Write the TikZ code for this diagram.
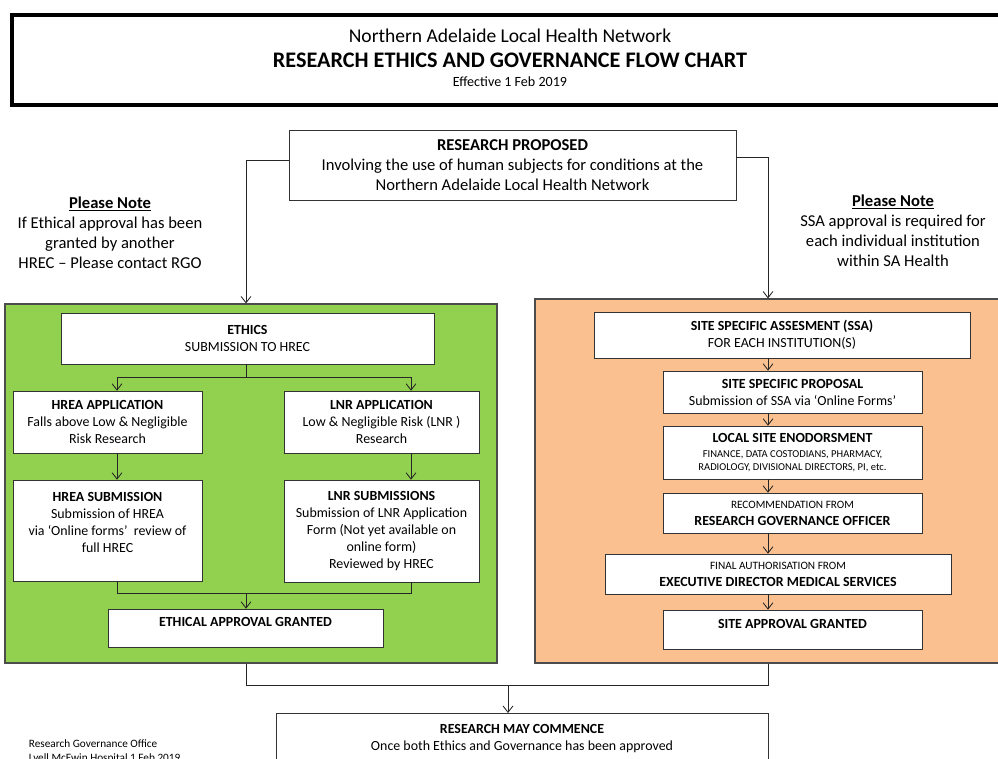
\documentclass[tikz,border=0pt]{standalone}
\usepackage{fontspec}
\setmainfont{Carlito}
\usetikzlibrary{arrows.meta}
\definecolor{ethgreen}{HTML}{92D050}
\definecolor{govorange}{HTML}{FAC090}
\tikzset{
  box/.style 2 args={draw=black!80, fill=white, align=center, inner sep=1pt,
    minimum width=#1*0.025cm, minimum height=#2*0.025cm,
    font=\fontsize{9.9}{12.1}\selectfont},
  panel/.style 2 args={draw=black!70, line width=0.8pt,
    minimum width=#1*0.025cm, minimum height=#2*0.025cm},
  note/.style={align=center, font=\fontsize{11.8}{14.3}\selectfont},
  link/.style={draw=black!85, line width=0.6pt},
  flow/.style={link, -{Straight Barb[length=4.5pt,width=7pt]}},
}
\newcommand{\finetext}{\fontsize{7.5}{9}\selectfont}
\newcommand{\leadtext}{\fontsize{8}{9}\selectfont}
\begin{document}
\begin{tikzpicture}[x=0.025cm, y=-0.025cm]
\useasboundingbox (0,0) rectangle (998,758);
\clip (0,0) rectangle (998,758);

% header
\node[draw, line width=2.8pt, minimum width=1000*0.025cm, minimum height=90*0.025cm] (banner) at (512,60) {};
\node[font=\fontsize{13.9}{16}\selectfont] (net) at (510,36) {Northern Adelaide Local Health Network};
\node[font=\fontsize{15.8}{18}\selectfont\bfseries] (heading) at (510,60) {RESEARCH ETHICS AND GOVERNANCE FLOW CHART};
\node[font=\fontsize{10}{12}\selectfont] (eff) at (510,82) {Effective 1 Feb 2019};

% top
\node[box={447}{70}, note, text depth=0pt] (prop) at (512.5,165) {\textbf{RESEARCH PROPOSED}\\Involving the use of human subjects for conditions at the\\Northern Adelaide Local Health Network};
\node[note] (noteL) at (110,233) {\underline{\textbf{Please Note}}\\If Ethical approval has been\\granted by another\\HREC -- Please contact RGO};
\node[note] (noteR) at (893,230.5) {\underline{\textbf{Please Note}}\\SSA approval is required for\\each individual institution\\within SA Health};

% panels
\node[panel={492}{359}, fill=ethgreen] (green) at (251,483.5) {};
\node[panel={475}{364}, fill=govorange] (orange) at (772.5,481) {};

\coordinate (lcol) at (117,0);
\coordinate (mcol) at (246,0);
\coordinate (ncol) at (411,0);
\coordinate (rcol) at (768,0);
\coordinate (jcol) at (508,0);
\coordinate (esplit) at (0,377);
\coordinate (emerge) at (0,593);
\coordinate (bmerge) at (0,685);

% ethics side
\node[box={373}{51}] (ethics) at (247.5,338.5) {\textbf{ETHICS}\\SUBMISSION TO HREC};
\node[box={189}{62}] (hreaapp) at (107.5,422) {\textbf{HREA APPLICATION}\\Falls above Low \& Negligible\\Risk Research};
\node[box={195}{62}] (lnrapp) at (381.5,422) {\textbf{LNR APPLICATION}\\Low \& Negligible Risk (LNR )\\Research};
\node[box={189}{101}] (hreasub) at (107.5,530.5) {\textbf{HREA SUBMISSION}\\Submission of HREA\\via `Online forms'~ review of\\full HREC\\\mbox{}};
\node[box={195}{102}] (lnrsub) at (381.5,531) {\textbf{LNR SUBMISSIONS}\\Submission of LNR Application\\Form (Not yet available on\\online form)\\Reviewed by HREC};
\node[box={275}{38}, text depth=8pt] (ethgrant) at (245.5,628) {\textbf{ETHICAL APPROVAL GRANTED}};

% governance side
\node[box={376}{46}] (ssa) at (782,335) {\textbf{SITE SPECIFIC ASSESMENT (SSA)}\\FOR EACH INSTITUTION(S)};
\node[box={259}{42}] (ssp) at (792.5,392) {\textbf{SITE SPECIFIC PROPOSAL}\\Submission of SSA via `Online Forms'};
\node[box={259}{53}] (lse) at (792.5,452.5) {\textbf{LOCAL SITE ENODORSMENT}\\[-1pt]{\finetext FINANCE, DATA COSTODIANS, PHARMACY,}\\[-3pt]{\finetext RADIOLOGY, DIVISIONAL DIRECTORS, PI, etc.}};
\node[box={259}{40}] (rgo) at (792.5,513) {{\leadtext RECOMMENDATION FROM}\\\textbf{RESEARCH GOVERNANCE OFFICER}};
\node[box={346}{40}] (edms) at (778,574) {{\leadtext FINAL AUTHORISATION FROM}\\\textbf{EXECUTIVE DIRECTOR MEDICAL SERVICES}};
\node[box={259}{39}, text depth=8pt] (sitegrant) at (792.5,629.5) {\textbf{SITE APPROVAL GRANTED}};

% bottom
\node[box={492}{90}, anchor=north, inner ysep=8pt, text depth=40pt] (commence) at (522,713) {\textbf{RESEARCH MAY COMMENCE}\\Once both Ethics and Governance has been approved};
\node[anchor=north west, align=left, font=\fontsize{8}{10}\selectfont] (office) at (24,735) {Research Governance Office\\Lyell McEwin Hospital 1 Feb 2019};

% connectors
\draw[flow] ([yshift=3.5pt]prop.west) -| (green.north -| mcol);
\draw[flow] ([yshift=5.5pt]prop.east) -| (orange.north -| rcol);
\draw[link] (ethics.south -| mcol) -- (esplit -| mcol);
\draw[flow] (esplit -| mcol) -| (hreaapp.north -| lcol);
\draw[flow] (esplit -| mcol) -| (lnrapp.north -| ncol);
\draw[flow] (hreaapp.south -| lcol) -- (hreasub.north -| lcol);
\draw[flow] (lnrapp.south -| ncol) -- (lnrsub.north -| ncol);
\draw[link] (hreasub.south -| lcol) |- (emerge -| ncol) -- (lnrsub.south -| ncol);
\draw[flow] (emerge -| mcol) -- (ethgrant.north -| mcol);
\foreach \a/\b in {ssa/ssp, ssp/lse, lse/rgo, rgo/edms, edms/sitegrant}
  \draw[flow] (\a.south -| rcol) -- (\b.north -| rcol);
\draw[link] (green.south -| mcol) |- (bmerge -| rcol) -- (orange.south -| rcol);
\draw[flow] (bmerge -| jcol) -- (commence.north -| jcol);
\end{tikzpicture}
\end{document}
